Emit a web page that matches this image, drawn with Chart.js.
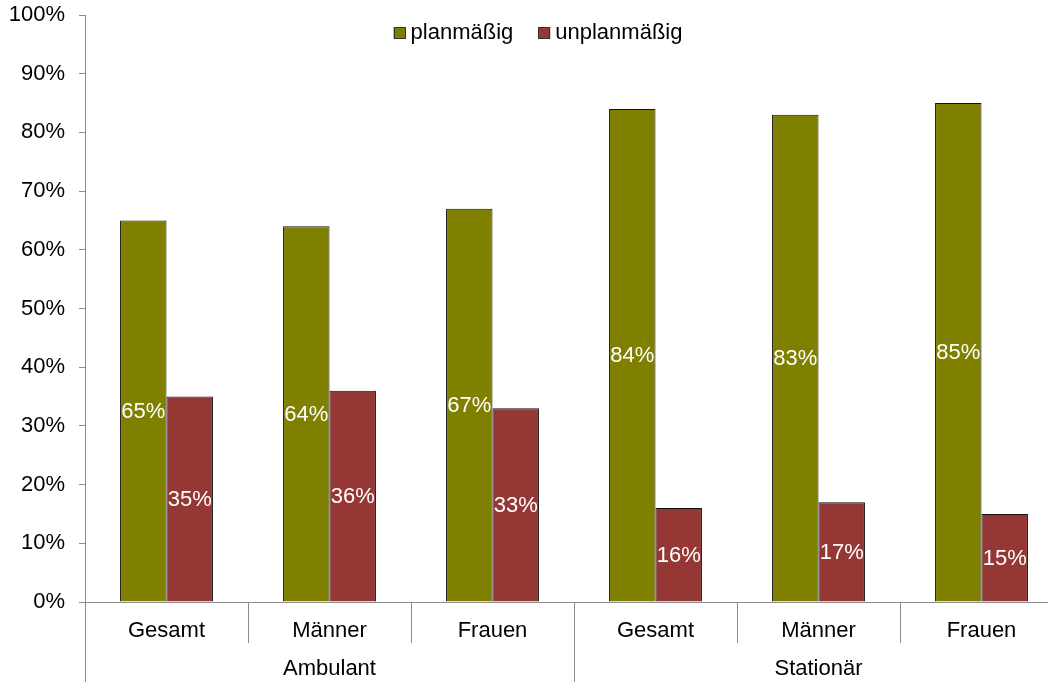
<!DOCTYPE html>
<html>
<head>
<meta charset="utf-8">
<script src="https://cdn.jsdelivr.net/npm/chart.js@4.4.1/dist/chart.umd.min.js"></script>
<style>
html,body{margin:0;padding:0;overflow:hidden;background:#fff;width:1048px;height:682px;}
canvas{display:block;}
</style>
</head>
<body>
<canvas id="c" width="1070" height="682"></canvas>
<script>
const categories = ['Gesamt','Männer','Frauen','Gesamt','Männer','Frauen'];
const groups = ['Ambulant','Stationär'];
const groupSizes = [3,3];
const seriesNames = ['planmäßig','unplanmäßig'];
const planmaessig = [65,64,67,84,83,85];
const unplanmaessig = [35,36,33,16,17,15];
const colors = ['#808000','#953735'];
const yTicks = [0,10,20,30,40,50,60,70,80,90,100];

const FONT = '"Liberation Sans", Arial, sans-serif';
const FS = 22;

const overlay = {
  id:'overlay',
  afterDraw(chart){
    const ctx = chart.ctx;
    const area = chart.chartArea;
    const n = categories.length;
    const w = (area.right - area.left)/n;
    ctx.save();
    ctx.strokeStyle = '#8c8c8c';
    ctx.lineWidth = 1;
    let outer = [0];
    let acc = 0;
    groupSizes.forEach(s=>{acc+=s; outer.push(acc);});
    for(let i=0;i<=n;i++){
      const x = Math.round(area.left + i*w)+0.5;
      const isOuter = outer.includes(i);
      ctx.beginPath();
      ctx.moveTo(x, area.bottom);
      ctx.lineTo(x, isOuter ? chart.height : area.bottom + 41);
      ctx.stroke();
    }
    ctx.fillStyle = '#000';
    ctx.font = FS + 'px ' + FONT;
    ctx.textAlign = 'center';
    ctx.textBaseline = 'middle';
    let start = 0;
    groups.forEach((g,gi)=>{
      const x0 = area.left + start*w;
      const x1 = area.left + (start+groupSizes[gi])*w;
      ctx.fillText(g, (x0+x1)/2, 669);
      start += groupSizes[gi];
    });
    ctx.fillStyle = '#fff';
    chart.data.datasets.forEach((ds,di)=>{
      const meta = chart.getDatasetMeta(di);
      meta.data.forEach((el,i)=>{
        const v = ds.data[i];
        ctx.fillText(v + '%', el.x, (el.y + el.base)/2 + 1);
      });
    });
    ctx.textAlign = 'left';
    const box = 12, gap = 5, spacing = 25;
    const w1 = ctx.measureText(seriesNames[0]).width;
    const w2 = ctx.measureText(seriesNames[1]).width;
    const total = box+gap+w1+spacing+box+gap+w2;
    let lx = 538 - total/2;
    const ly = 33;
    [0,1].forEach(k=>{
      ctx.fillStyle = colors[k];
      ctx.fillRect(lx, ly-box/2, box, box);
      ctx.strokeStyle = '#333';
      ctx.strokeRect(Math.round(lx)+0.5, Math.round(ly-box/2)+0.5, box-1, box-1);
      ctx.fillStyle = '#000';
      ctx.fillText(seriesNames[k], lx+box+gap, ly);
      lx += box+gap+(k===0?w1:w2)+spacing;
    });
    ctx.restore();
  }
};

new Chart(document.getElementById('c'), {
  type:'bar',
  data:{
    labels: categories,
    datasets:[
      {label:seriesNames[0], data:planmaessig, backgroundColor:colors[0], borderColor:'#111', borderWidth:1, categoryPercentage:0.57, barPercentage:1},
      {label:seriesNames[1], data:unplanmaessig, backgroundColor:colors[1], borderColor:'#111', borderWidth:1, categoryPercentage:0.57, barPercentage:1}
    ]
  },
  options:{
    responsive:false,
    animation:false,
    layout:{padding:{top:15, right:7, left:0, bottom:0}},
    plugins:{legend:{display:false}, tooltip:{enabled:false}},
    scales:{
      x:{
        offset:true,
        grid:{display:false},
        border:{display:true, color:'#8c8c8c'},
        ticks:{color:'#000', font:{size:FS, family:FONT}, padding:8, maxRotation:0},
        afterFit(s){ s.height = 80; s.paddingLeft = 0; s.paddingRight = 0; }
      },
      y:{
        min:0, max:100,
        afterBuildTicks(s){ s.ticks = yTicks.map(v=>({value:v})); },
        grid:{display:true, drawOnChartArea:false, drawTicks:true, tickLength:6, color:'#8c8c8c'},
        border:{display:true, color:'#8c8c8c'},
        ticks:{color:'#000', font:{size:FS, family:FONT}, padding:14, callback:v=>v+'%'},
        afterFit(s){ s.width = 85; s.paddingTop = 0; s.paddingBottom = 0; }
      }
    }
  },
  plugins:[overlay]
});
</script>
</body>
</html>
